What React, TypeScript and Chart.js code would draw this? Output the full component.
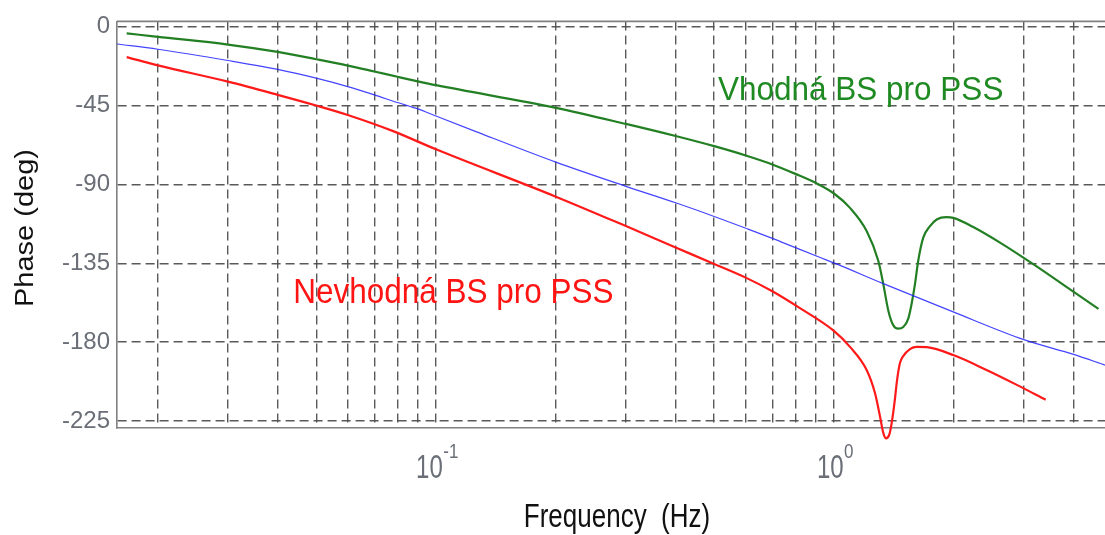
import React, { useEffect, useRef } from "react";
import { Chart, registerables } from "chart.js";

Chart.register(...registerables);

// ---- Data (frequency in Hz, phase in degrees) ----
const greenFreq = [0.0167, 0.02, 0.03, 0.04, 0.05, 0.06, 0.07, 0.08, 0.09, 0.1, 0.2, 0.3, 0.4, 0.5, 0.6, 0.7, 0.8, 0.908, 1.0, 1.097, 1.208, 1.292, 1.33, 1.369, 1.409, 1.45, 1.493, 1.537, 1.567, 1.598, 1.628, 1.676, 1.743, 1.812, 1.918, 1.994, 2.238, 2.613, 3.167, 4.02, 4.62];
const greenPhase = [-3.8, -5.8, -10.2, -14.4, -18.6, -22.2, -25.6, -28.6, -31.2, -33.4, -46.3, -55.5, -62.4, -68.2, -73.5, -78.6, -84.0, -89.6, -95.2, -103.4, -116.6, -133.6, -146.8, -161.9, -170.4, -172.3, -171.4, -166.6, -158.1, -146.8, -133.6, -120.4, -113.8, -110.0, -108.7, -109.1, -114.3, -123.2, -135.5, -151.6, -161.0];

const blueFreq = [0.0158, 0.02, 0.03, 0.04, 0.05, 0.06, 0.07, 0.08, 0.09, 0.1, 0.126, 0.2, 0.3, 0.4, 0.5, 0.6, 0.7, 0.8, 0.92, 1.0, 1.33, 2.0, 3.0, 4.0, 4.8];
const bluePhase = [-9.9, -12.9, -19.3, -24.4, -29.4, -34.2, -38.9, -43.3, -46.9, -51.0, -59.9, -77.3, -91.1, -100.5, -108.3, -115.0, -120.8, -126.1, -131.6, -134.8, -146.6, -162.9, -178.6, -187.0, -193.1];

const redFreq = [0.0167, 0.02, 0.03, 0.04, 0.05, 0.06, 0.078, 0.1, 0.2, 0.3, 0.4, 0.5, 0.6, 0.7, 0.821, 0.996, 1.097, 1.208, 1.268, 1.305, 1.33, 1.351, 1.377, 1.396, 1.422, 1.437, 1.464, 1.493, 1.552, 1.614, 1.711, 1.994, 2.417, 2.88, 3.403];
const redPhase = [-17.4, -22.1, -31.4, -38.9, -45.0, -50.4, -59.6, -70.0, -97.0, -113.8, -126.0, -135.4, -143.2, -151.0, -160.6, -173.3, -182.7, -195.9, -209.2, -222.4, -231.8, -234.9, -232.8, -226.2, -213.0, -203.5, -192.1, -188.0, -184.0, -182.7, -182.9, -187.4, -195.9, -204.4, -212.9];

// ---- Axis ticks / labels ----
const yTickValues = [0, -45, -90, -135, -180, -225];
const xGridValues = [0.02, 0.03, 0.04, 0.05, 0.06, 0.07, 0.08, 0.09, 0.1, 0.2, 0.3, 0.4, 0.5, 0.6, 0.7, 0.8, 0.9, 1, 2, 3, 4];
const xDecadeValues = [0.1, 1];
const xDecadeExponents = ["-1", "0"];
const xAxisTitle = "Frequency  (Hz)";
const yAxisTitle = "Phase (deg)";
const labelGood = "Vhodná BS pro PSS";
const labelBad = "Nevhodná BS pro PSS";
const labelGoodAt = [0.511, -41.9];
const labelBadAt = [0.04375, -157.8];

const FONT = "'Liberation Sans', Arial, sans-serif";

function toPoints(xs: number[], ys: number[]) {
  return xs.map((x, i) => ({ x, y: ys[i] }));
}

function drawText(
  ctx: CanvasRenderingContext2D,
  text: string,
  x: number,
  y: number,
  size: number,
  color: string,
  align: CanvasTextAlign,
  sy: number
) {
  ctx.save();
  ctx.translate(x, y);
  ctx.scale(1, sy);
  ctx.font = `${size}px ${FONT}`;
  ctx.fillStyle = color;
  ctx.textAlign = align;
  ctx.textBaseline = "alphabetic";
  ctx.fillText(text, 0, 0);
  ctx.restore();
}

const decorPlugin = {
  id: "decor",
  afterDraw(chart: any) {
    const { ctx, chartArea, scales } = chart;
    const xs = scales.x;
    const ys = scales.y;
    ctx.save();
    // top frame line
    ctx.strokeStyle = "#808080";
    ctx.lineWidth = 1.6;
    ctx.beginPath();
    ctx.moveTo(chartArea.left, chartArea.top);
    ctx.lineTo(chartArea.right + 2, chartArea.top);
    ctx.stroke();

    // x decade labels 10^n
    xDecadeValues.forEach((v, i) => {
      const px = xs.getPixelForValue(v);
      ctx.font = `24px ${FONT}`;
      const wBase = ctx.measureText("10").width;
      ctx.font = `17px ${FONT}`;
      const wExp = ctx.measureText(xDecadeExponents[i]).width;
      const left = px - (wBase + wExp) / 2 + 1;
      drawText(ctx, "10", left, chartArea.bottom + 50, 24, "#6a6e76", "left", 1.35);
      drawText(ctx, xDecadeExponents[i], left + wBase + 0.5, chartArea.bottom + 30, 17, "#6a6e76", "left", 1.15);
    });

    // x axis title
    drawText(ctx, xAxisTitle, 617, chartArea.bottom + 99, 26, "#111", "center", 1.25);

    // y axis title (rotated)
    ctx.save();
    ctx.translate(33, 228);
    ctx.rotate(-Math.PI / 2);
    ctx.scale(1, 0.9);
    ctx.font = `29px ${FONT}`;
    ctx.fillStyle = "#111";
    ctx.textAlign = "center";
    ctx.textBaseline = "alphabetic";
    ctx.fillText(yAxisTitle, 0, 0);
    ctx.restore();

    // annotations
    drawText(ctx, labelGood, xs.getPixelForValue(labelGoodAt[0]), ys.getPixelForValue(labelGoodAt[1]), 31.5, "#1f8a22", "left", 1.06);
    drawText(ctx, labelBad, xs.getPixelForValue(labelBadAt[0]), ys.getPixelForValue(labelBadAt[1]), 31.5, "#ff1414", "left", 1.12);
    ctx.restore();
  },
};

export default function App() {
  const ref = useRef<HTMLCanvasElement | null>(null);

  useEffect(() => {
    if (!ref.current) return;
    const gridCommon = {
      color: "rgba(80,80,80,0.95)",
      lineWidth: 1.4,
      drawTicks: false,
    };
    const borderCommon = {
      display: true,
      color: "#808080",
      width: 1.6,
      dash: [9, 5],
    };
    const chart = new Chart(ref.current, {
      type: "line",
      data: {
        datasets: [
          {
            label: "Blue",
            data: toPoints(blueFreq, bluePhase),
            borderColor: "rgba(35,35,255,0.85)",
            borderWidth: 1.2,
            pointRadius: 0,
            cubicInterpolationMode: "monotone",
            clip: false as any,
          },
          {
            label: "Vhodná",
            data: toPoints(greenFreq, greenPhase),
            borderColor: "#237f23",
            borderWidth: 2.2,
            pointRadius: 0,
            cubicInterpolationMode: "monotone",
            clip: false as any,
          },
          {
            label: "Nevhodná",
            data: toPoints(redFreq, redPhase),
            borderColor: "#ff1a1a",
            borderWidth: 2.2,
            pointRadius: 0,
            cubicInterpolationMode: "monotone",
            clip: false as any,
          },
        ],
      },
      options: {
        animation: false,
        responsive: false,
        layout: { padding: { top: 19, right: 0, left: 0, bottom: 0 } },
        plugins: {
          legend: { display: false },
          tooltip: { enabled: false },
          title: { display: false },
        },
        scales: {
          x: {
            type: "logarithmic",
            min: 0.01579,
            max: 4.797,
            grid: gridCommon,
            border: borderCommon,
            ticks: { display: false },
            afterBuildTicks: (scale: any) => {
              scale.ticks = xGridValues.map((v) => ({ value: v }));
            },
            afterFit: (scale: any) => {
              scale.height = 107;
            },
          },
          y: {
            type: "linear",
            min: -229,
            max: 3,
            grid: gridCommon,
            border: borderCommon,
            ticks: {
              color: "#6a6e76",
              padding: 7,
              font: { family: FONT, size: 24 },
              callback: (v: any) => String(v),
            },
            afterBuildTicks: (scale: any) => {
              scale.ticks = yTickValues.map((v) => ({ value: v }));
            },
            afterFit: (scale: any) => {
              scale.width = 117;
            },
          },
        },
      } as any,
      plugins: [decorPlugin],
    });
    return () => chart.destroy();
  }, []);

  return (
    <div style={{ position: "absolute", left: 0, top: 0, width: 1105, height: 535, background: "#fff" }}>
      <canvas ref={ref} width={1105} height={535} style={{ display: "block", width: 1105, height: 535 }} />
    </div>
  );
}
